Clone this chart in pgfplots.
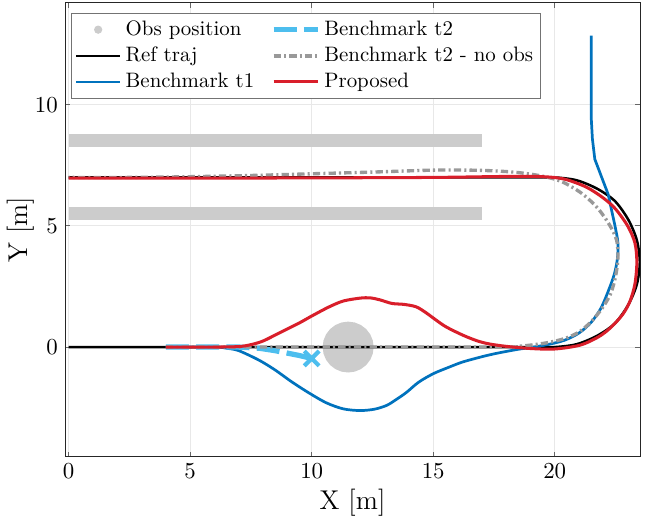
\documentclass[border=0pt]{standalone}
\usepackage{pgfplots}
\pgfplotsset{compat=1.18}

\definecolor{obsgray}{RGB}{204,204,204}
\definecolor{tonecol}{RGB}{0,114,189}
\definecolor{ttwocol}{RGB}{77,190,238}
\definecolor{nobscol}{RGB}{153,153,153}
\definecolor{propcol}{RGB}{217,30,42}

\begin{document}
\begin{tikzpicture}
\begin{axis}[
  scale only axis,
  width=275.2pt, height=217.3pt,
  xmin=-0.145, xmax=23.51,
  ymin=-4.53, ymax=14.2,
  xtick={0,5,10,15,20},
  ytick={0,5,10},
  grid=major,
  grid style={black!9, line width=0.5pt},
  tick align=inside,
  major tick length=2.5pt,
  axis line style={black!85, line width=0.5pt},
  tick style={black!60, line width=0.5pt},
  xlabel={X [m]},
  ylabel={Y [m]},
  xlabel style={yshift=2pt},
  ylabel style={yshift=-6.5pt},
  label style={font=\fontsize{13}{15}\selectfont},
  tick label style={font=\fontsize{11}{13}\selectfont},
  legend columns=2,
  legend cell align=left,
  legend image code/.code={\draw[mark repeat=2,mark phase=2,#1]
    plot coordinates {(0cm,0cm) (0.37cm,0cm) (0.74cm,0cm)};},
  legend style={at={(0.0105,0.978)}, anchor=north west,
    draw=black!55, line width=0.5pt, inner sep=1.5pt,
    font=\fontsize{10}{12}\selectfont,
    /tikz/every even column/.append style={column sep=6pt}},
]
% legend entries, MATLAB column order laid out row-wise
\addlegendimage{only marks, mark=*, mark size=1.7pt, obsgray}
\addlegendentry{Obs position}
\addlegendimage{ttwocol, line width=2.5pt, dash pattern=on 11pt off 3.5pt}
\addlegendentry{Benchmark t2}
\addlegendimage{black, line width=1.2pt}
\addlegendentry{Ref traj}
\addlegendimage{nobscol, line width=1.6pt, dash pattern=on 3.5pt off 1.5pt on 1pt off 1.5pt}
\addlegendentry{Benchmark t2 - no obs}
\addlegendimage{tonecol, line width=1.3pt}
\addlegendentry{Benchmark t1}
\addlegendimage{propcol, line width=1.45pt}
\addlegendentry{Proposed}

% walls
\addplot[forget plot, fill=obsgray, draw=none] coordinates {
  (0,8.25) (17,8.25) (17,8.78) (0,8.78)} -- cycle;
\addplot[forget plot, fill=obsgray, draw=none] coordinates {
  (0,5.23) (17,5.23) (17,5.76) (0,5.76)} -- cycle;

% obstacle
\addplot[forget plot, fill=obsgray, draw=none] coordinates {
  (12.55,0) (12.514,0.272) (12.409,0.525) (12.242,0.742) (12.025,0.909)
  (11.772,1.014) (11.5,1.05) (11.228,1.014) (10.975,0.909) (10.758,0.742)
  (10.591,0.525) (10.486,0.272) (10.45,0) (10.486,-0.272) (10.591,-0.525)
  (10.758,-0.742) (10.975,-0.909) (11.228,-1.014) (11.5,-1.05)
  (11.772,-1.014) (12.025,-0.909) (12.242,-0.742) (12.409,-0.525)
  (12.514,-0.272)} -- cycle;

% reference trajectory
\addplot[forget plot, black, line width=1.2pt, smooth] coordinates {
  (0,0) (10,0) (19,0) (20,0) (20.906,0.119) (21.75,0.469) (22.475,0.975)
  (23.031,1.75) (23.381,2.594) (23.5,3.5) (23.381,4.406) (23.031,5.25)
  (22.475,6.025) (21.75,6.531) (20.906,6.881) (20,7) (19,7) (10,7) (0,7)};

% benchmark t1
\addplot[forget plot, tonecol, line width=1.3pt, smooth] coordinates {
  (4,0) (6,0) (6.5,-0.05) (7,-0.15) (7.85,-0.55) (8.5,-0.95) (9.2,-1.45)
  (9.9,-1.9) (10.6,-2.3) (11.3,-2.55) (12,-2.62) (12.6,-2.56) (13.1,-2.4)
  (13.5,-2.15) (13.9,-1.87) (14.4,-1.45) (15,-1.1) (15.6,-0.85)
  (16.2,-0.62) (17,-0.4) (17.6,-0.26) (18.45,-0.1) (19,-0.02) (19.7,0.1)
  (20.4,0.28) (21,0.58) (21.5,1.02) (21.9,1.6) (22.2,2.3) (22.45,3.0)
  (22.58,3.65) (22.6,4.3) (22.5,4.9) (22.35,5.6) (22.2,6.3)};
\addplot[forget plot, tonecol, line width=1.3pt] coordinates {
  (22.2,6.3) (21.65,7.75) (21.55,8.6) (21.5,9.5) (21.5,11) (21.5,12.85)};

% benchmark t2 (collision)
\addplot[forget plot, ttwocol, line width=2.5pt, dash pattern=on 11pt off 3.5pt]
  coordinates {(4,0) (7,0) (7.85,-0.05) (8.5,-0.15) (9,-0.25) (9.5,-0.35) (10,-0.47)};
\addplot[forget plot, only marks, ttwocol, mark=x, mark size=5pt,
  mark options={line width=2pt}] coordinates {(10,-0.47)};

% benchmark t2 without obstacle
\addplot[forget plot, nobscol, line width=1.6pt, smooth,
  dash pattern=on 3.5pt off 1.5pt on 1pt off 1.5pt] coordinates {
  (4,0) (12,0) (18,0) (18.6,0.04) (19,0.08) (19.7,0.18) (20.4,0.35)
  (21,0.62) (21.5,1.05) (21.95,1.6) (22.3,2.2) (22.5,2.9) (22.6,3.65)
  (22.55,4.4) (22.25,5.05) (21.75,5.75) (21.1,6.35) (20.3,6.82)
  (19.5,7.05) (18.5,7.2) (17.5,7.27) (16.5,7.3) (15,7.3) (12.5,7.22)
  (10,7.15) (7.5,7.08) (5,7.03) (2.5,7.0) (0,7.0)};

% proposed
\addplot[forget plot, propcol, line width=1.45pt, smooth] coordinates {
  (4,0) (6,0) (7,0.02) (7.5,0.1) (8,0.25) (8.7,0.6) (9.5,1.0) (10,1.28)
  (10.7,1.65) (11.3,1.9) (12,2.02) (12.4,2.03) (12.8,1.95) (13.3,1.8)
  (13.8,1.76) (14.3,1.66) (14.7,1.42) (15,1.2) (15.5,0.85) (16.2,0.5)
  (16.8,0.26) (17.3,0.13) (18,0.03) (19,-0.06) (20,-0.08) (21.05,0.08)
  (21.8,0.42) (22.3,0.8) (22.8,1.35) (23.1,1.9) (23.3,2.6) (23.38,3.5)
  (23.3,4.3) (23.0,5.0) (22.5,5.7) (22.0,6.15) (21.3,6.6) (20.4,6.93)
  (19.5,7.03) (18,7.04) (15,7.0) (10,6.98) (5,6.97) (0,6.97)};
\end{axis}
\path (current axis.north east) ++(4.3pt,1.4pt);
\end{tikzpicture}
\end{document}
